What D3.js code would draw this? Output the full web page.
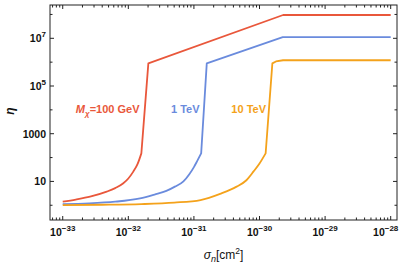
<!DOCTYPE html>
<html><head><meta charset="utf-8">
<script src="https://cdn.jsdelivr.net/npm/d3@7"></script>
<style>body{margin:0;background:#fff}svg{display:block}</style>
</head><body>
<svg id="c" width="407" height="264"></svg>
<script>
// ---- data ----
const sigmaRed  = [1e-33,1.58e-33,2.61e-33,4.68e-33,6.31e-33,8.39e-33,1.0e-32,1.19e-32,1.38e-32,1.58e-32,2.02e-32,2.29e-30,1e-28];
const etaRed    = [1.41,1.74,2.29,3.72,5.25,8.32,13.2,25.7,52.5,150,8.9e5,9.5e7,9.5e7];
const sigmaBlue = [1e-33,2.51e-33,6.31e-33,1.51e-32,2.51e-32,3.80e-32,5.13e-32,6.92e-32,8.51e-32,1.0e-31,1.12e-31,1.29e-31,1.57e-31,2.26e-30,1e-28];
const etaBlue   = [1.12,1.20,1.41,1.95,2.82,3.98,6.03,10,20,39.8,70.8,150,8.9e5,1.12e7,1.12e7];
const sigmaOrange = [1e-33,3.98e-33,1.58e-32,5.01e-32,1.26e-31,2.51e-31,4.47e-31,6.31e-31,8.13e-31,1e-30,1.24e-30,1.57e-30,1.78e-30,2.29e-30,1e-28];
const etaOrange   = [1.02,1.05,1.12,1.29,1.66,3.02,6.03,11.2,26.3,56.2,150,8.9e5,1.07e6,1.2e6,1.2e6];
const seriesNames = ["100 GeV","1 TeV","10 TeV"];
const xTickExp = [-33,-32,-31,-30,-29,-28];
const yTickLabels = [{v:10,t:"10"},{v:1000,t:"1000"},{v:1e5,b:"10",s:"5"},{v:1e7,b:"10",s:"7"}];
const yMinorTicks = [1,100,1e4,1e6,1e8];

const L=50,R=397,T=5,B=220;
const svg=d3.select("#c");
const x=d3.scaleLog().domain([Math.pow(10,-33.194),Math.pow(10,-27.904)]).range([L,R]);
const y=d3.scaleLog().domain([Math.pow(10,-0.618),Math.pow(10,8.396)]).range([B,T]);

const colors=["#E9573B","#6A8BDD","#F4A21B"];
const series=[[sigmaRed,etaRed],[sigmaBlue,etaBlue],[sigmaOrange,etaOrange]];

const g=svg.append("g");
const smooth=d3.line().x(d=>x(d[0])).y(d=>y(d[1])).curve(d3.curveMonotoneX);
const straight=d3.line().x(d=>x(d[0])).y(d=>y(d[1]));
series.forEach((s,i)=>{
  const pts=s[0].map((v,j)=>[v,s[1][j]]);
  const k=s[1].indexOf(150); // end of smooth rising part
  const d=smooth(pts.slice(0,k+1))+straight(pts.slice(k)).replace(/^M/,"L");
  g.append("path").attr("d",d).attr("fill","none").attr("stroke",colors[i])
   .attr("stroke-width",1.8).attr("stroke-linejoin","round");
});

// frame
const fr=svg.append("g").attr("stroke","#222").attr("stroke-width",1);
fr.append("rect").attr("x",L).attr("y",T).attr("width",R-L).attr("height",B-T).attr("fill","none");

// x ticks
const xmin=x.domain()[0], xmax=x.domain()[1];
const xt=[];
for(let e=-34;e<=-28;e++){for(let m=1;m<=9;m++){const v=m*Math.pow(10,e);if(v>=xmin&&v<=xmax)xt.push({v,major:m===1});}}
xt.forEach(t=>{
  const px=x(t.v), len=t.major?4:2.5;
  fr.append("line").attr("x1",px).attr("x2",px).attr("y1",B).attr("y2",B-len);
  fr.append("line").attr("x1",px).attr("x2",px).attr("y1",T).attr("y2",T+len);
});
// y ticks
yTickLabels.forEach(t=>{
  const py=y(t.v);
  fr.append("line").attr("x1",L).attr("x2",L+4).attr("y1",py).attr("y2",py);
  fr.append("line").attr("x1",R).attr("x2",R-4).attr("y1",py).attr("y2",py);
});
yMinorTicks.forEach(v=>{
  const py=y(v); if(py<T||py>B)return;
  fr.append("line").attr("x1",L).attr("x2",L+2.5).attr("y1",py).attr("y2",py);
  fr.append("line").attr("x1",R).attr("x2",R-2.5).attr("y1",py).attr("y2",py);
});

const font="'Liberation Sans',Arial,sans-serif";
// x tick labels
xTickExp.forEach(e=>{
  let px=x(Math.pow(10,e));
  if(e===-28) px-=5;
  const t=svg.append("text").attr("x",px).attr("y",235.5).attr("text-anchor","middle")
    .attr("font-family",font).attr("font-size",10.5).attr("font-weight","bold").attr("fill","#111");
  t.append("tspan").text("10");
  t.append("tspan").attr("dy",-5).attr("font-size",8).text("\u2212"+(-e));
});
// y tick labels
yTickLabels.forEach(d=>{
  const t=svg.append("text").attr("x",46).attr("y",y(d.v)+3.8).attr("text-anchor","end")
    .attr("font-family",font).attr("font-size",10.5).attr("font-weight","bold").attr("fill","#111");
  if(d.t){t.text(d.t);}else{t.append("tspan").text(d.b);t.append("tspan").attr("dy",-5).attr("font-size",8).text(d.s);}
});

// axis labels
svg.append("text").attr("transform","translate(14,111) rotate(-90)").attr("text-anchor","middle")
  .attr("font-family",font).attr("font-size",12).attr("font-style","italic").attr("font-weight","bold").attr("fill","#111").text("\u03B7");
const xl=svg.append("text").attr("x",223.5).attr("y",259).attr("text-anchor","middle")
  .attr("font-family",font).attr("font-size",12).attr("fill","#111");
xl.append("tspan").attr("font-style","italic").text("\u03C3");
xl.append("tspan").attr("font-style","italic").attr("font-size",9).attr("dy",3).text("n");
xl.append("tspan").attr("dy",-3).text("[cm");
xl.append("tspan").attr("font-size",8.5).attr("dy",-5).text("2");
xl.append("tspan").attr("dy",5).text("]");

// series labels
const lab=(px,py,col)=>svg.append("text").attr("x",px).attr("y",py).attr("text-anchor","end")
  .attr("font-family",font).attr("font-size",11).attr("font-weight","bold").attr("fill",col);
const l1=lab(139.5,113.3,colors[0]);
l1.append("tspan").attr("font-style","italic").text("M");
l1.append("tspan").attr("font-style","italic").attr("font-size",8).attr("dy",2.5).text("\u03C7");
l1.append("tspan").attr("dy",-2.5).text("=100 GeV");
lab(199.5,113.3,colors[1]).text(seriesNames[1]);
lab(266,113.3,colors[2]).text(seriesNames[2]);
</script>
</body></html>
